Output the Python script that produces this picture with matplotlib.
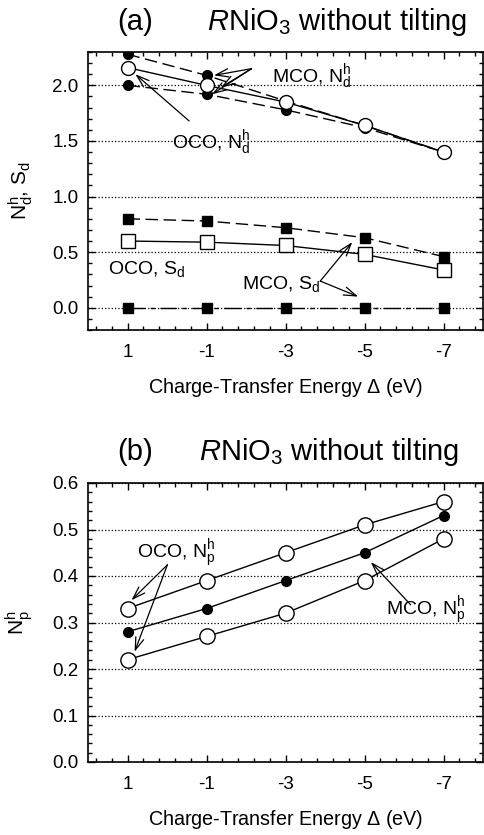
import matplotlib
matplotlib.use("Agg")
import matplotlib.pyplot as plt
from matplotlib.ticker import MultipleLocator, FixedLocator, FormatStrFormatter

plt.rcParams['font.family'] = 'Liberation Sans'
plt.rcParams['mathtext.fontset'] = 'custom'
plt.rcParams['mathtext.rm'] = 'Liberation Sans'
plt.rcParams['mathtext.it'] = 'Liberation Sans:italic'
plt.rcParams['mathtext.bf'] = 'Liberation Sans:bold'
plt.rcParams['axes.unicode_minus'] = False

# datos
delta = [1, -1, -3, -5, -7]
delta_labels = ["1", "-1", "-3", "-5", "-7"]

# panel (a)
mco_nd_alto = [2.28, 2.09, 1.86, 1.64, 1.40]
mco_nd_bajo = [2.00, 1.92, 1.78, 1.62, 1.40]
oco_nd = [2.16, 2.00, 1.85, 1.64, 1.40]
mco_sd_alto = [0.80, 0.78, 0.72, 0.63, 0.46]
mco_sd_cero = [0.0, 0.0, 0.0, 0.0, 0.0]
oco_sd = [0.60, 0.59, 0.56, 0.48, 0.34]

# panel (b)
oco_np_alto = [0.33, 0.39, 0.45, 0.51, 0.56]
mco_np = [0.28, 0.33, 0.39, 0.45, 0.53]
oco_np_bajo = [0.22, 0.27, 0.32, 0.39, 0.48]

fig = plt.figure(figsize=(4.84, 8.35), dpi=100)
ax1 = fig.add_axes([88/484, 1 - 330/835, 395/484, 278/835])
ax2 = fig.add_axes([88/484, 1 - 762/835, 395/484, 279/835])

lw = 1.0
dash = (0, (9, 4))
dashdot = (0, (12, 4, 3, 4))

ax1.plot(delta, mco_nd_alto, ls=dash, color='k', lw=lw, marker='o', ms=7, mfc='k', mec='k', zorder=3)
ax1.plot(delta, mco_nd_bajo, ls=dash, color='k', lw=lw, marker='o', ms=7, mfc='k', mec='k', zorder=3)
ax1.plot(delta, oco_nd, ls='-', color='k', lw=lw, marker='o', ms=10, mfc='white', mec='k', mew=1.0, zorder=4)
ax1.plot(delta, mco_sd_alto, ls=dash, color='k', lw=lw, marker='s', ms=7, mfc='k', mec='k', zorder=3)
ax1.plot(delta, mco_sd_cero, ls=dashdot, color='k', lw=lw, marker='s', ms=7, mfc='k', mec='k', zorder=3)
ax1.plot(delta, oco_sd, ls='-', color='k', lw=lw, marker='s', ms=10, mfc='white', mec='k', mew=1.0, zorder=4)

ax2.plot(delta, oco_np_alto, ls='-', color='k', lw=lw, marker='o', ms=11, mfc='white', mec='k', mew=1.0)
ax2.plot(delta, mco_np, ls='-', color='k', lw=lw, marker='o', ms=7, mfc='k', mec='k')
ax2.plot(delta, oco_np_bajo, ls='-', color='k', lw=lw, marker='o', ms=11, mfc='white', mec='k', mew=1.0)

ax1.set_ylim(-0.2, 2.3)
ax1.yaxis.set_major_locator(MultipleLocator(0.5))
ax1.yaxis.set_minor_locator(MultipleLocator(0.1))
ax2.set_ylim(0.0, 0.6)
ax2.yaxis.set_major_locator(MultipleLocator(0.1))
ax2.yaxis.set_minor_locator(MultipleLocator(0.02))

for ax in (ax1, ax2):
    ax.set_xlim(2, -8)
    ax.xaxis.set_major_locator(FixedLocator(delta))
    ax.set_xticklabels(delta_labels)
    ax.xaxis.set_minor_locator(FixedLocator([1.8 - 0.4 * i for i in range(25)]))
    ax.yaxis.set_major_formatter(FormatStrFormatter('%.1f'))
    ax.tick_params(which='both', direction='in', top=True, right=True, labelsize=13.5, width=1.0)
    ax.tick_params(which='major', length=5)
    ax.tick_params(which='minor', length=3)
    ax.tick_params(axis='x', pad=10)
    ax.tick_params(axis='y', pad=7)
    ax.yaxis.grid(True, which='major', ls=':', color='k', lw=0.9)
    ax.set_axisbelow(True)
    for s in ax.spines.values():
        s.set_linewidth(1.2)
    ax.set_xlabel(r'Charge-Transfer Energy $\Delta$ (eV)', fontsize=14.2, labelpad=11)

ax1.set_ylabel(r'N$^{\rm h}_{\rm d}$, S$_{\rm d}$', fontsize=15)
ax2.set_ylabel(r'N$^{\rm h}_{\rm p}$', fontsize=15)
ax1.yaxis.set_label_coords(-0.135, 0.5)
ax2.yaxis.set_label_coords(-0.135, 0.5)

fig.text(117/484, 1 - 22/835, '(a)', fontsize=21, ha='left', va='center')
fig.text(207/484, 1 - 22/835, r'$\mathit{R}$NiO$_3$ without tilting', fontsize=21, ha='left', va='center')
fig.text(117/484, 1 - 452/835, '(b)', fontsize=21, ha='left', va='center')
fig.text(199/484, 1 - 452/835, r'$\mathit{R}$NiO$_3$ without tilting', fontsize=21, ha='left', va='center')

flecha = dict(arrowstyle='->,head_length=0.9,head_width=0.3', color='k', lw=0.9, shrinkA=0, shrinkB=0)
ft = 14

# anotaciones panel (a)
ax1.text(-2.65, 2.03, r'MCO, N$^{\rm h}_{\rm d}$', fontsize=ft, ha='left', va='baseline')
for xy in [(-1.19, 2.09), (-1.36, 1.98), (-1.14, 1.92)]:
    ax1.annotate('', xy=xy, xytext=(-2.14, 2.15), arrowprops=flecha)
ax1.text(-0.13, 1.44, r'OCO, N$^{\rm h}_{\rm d}$', fontsize=ft, ha='left', va='baseline')
ax1.annotate('', xy=(0.80, 2.10), xytext=(-0.56, 1.68), arrowprops=flecha)
ax1.text(1.50, 0.30, r'OCO, S$_{\rm d}$', fontsize=ft, ha='left', va='baseline')
ax1.text(-1.89, 0.17, r'MCO, S$_{\rm d}$', fontsize=ft, ha='left', va='baseline')
ax1.annotate('', xy=(-4.69, 0.59), xytext=(-3.88, 0.24), arrowprops=flecha)
ax1.annotate('', xy=(-4.84, 0.10), xytext=(-3.88, 0.24), arrowprops=flecha)

# anotaciones panel (b)
ax2.text(0.77, 0.439, r'OCO, N$^{\rm h}_{\rm p}$', fontsize=ft, ha='left', va='baseline')
ax2.annotate('', xy=(0.90, 0.348), xytext=(-0.01, 0.424), arrowprops=flecha)
ax2.annotate('', xy=(0.82, 0.237), xytext=(-0.01, 0.424), arrowprops=flecha)
ax2.text(-5.54, 0.316, r'MCO, N$^{\rm h}_{\rm p}$', fontsize=ft, ha='left', va='baseline')
ax2.annotate('', xy=(-5.16, 0.430), xytext=(-6.17, 0.338), arrowprops=flecha)

fig.savefig('out.png', dpi=100)
